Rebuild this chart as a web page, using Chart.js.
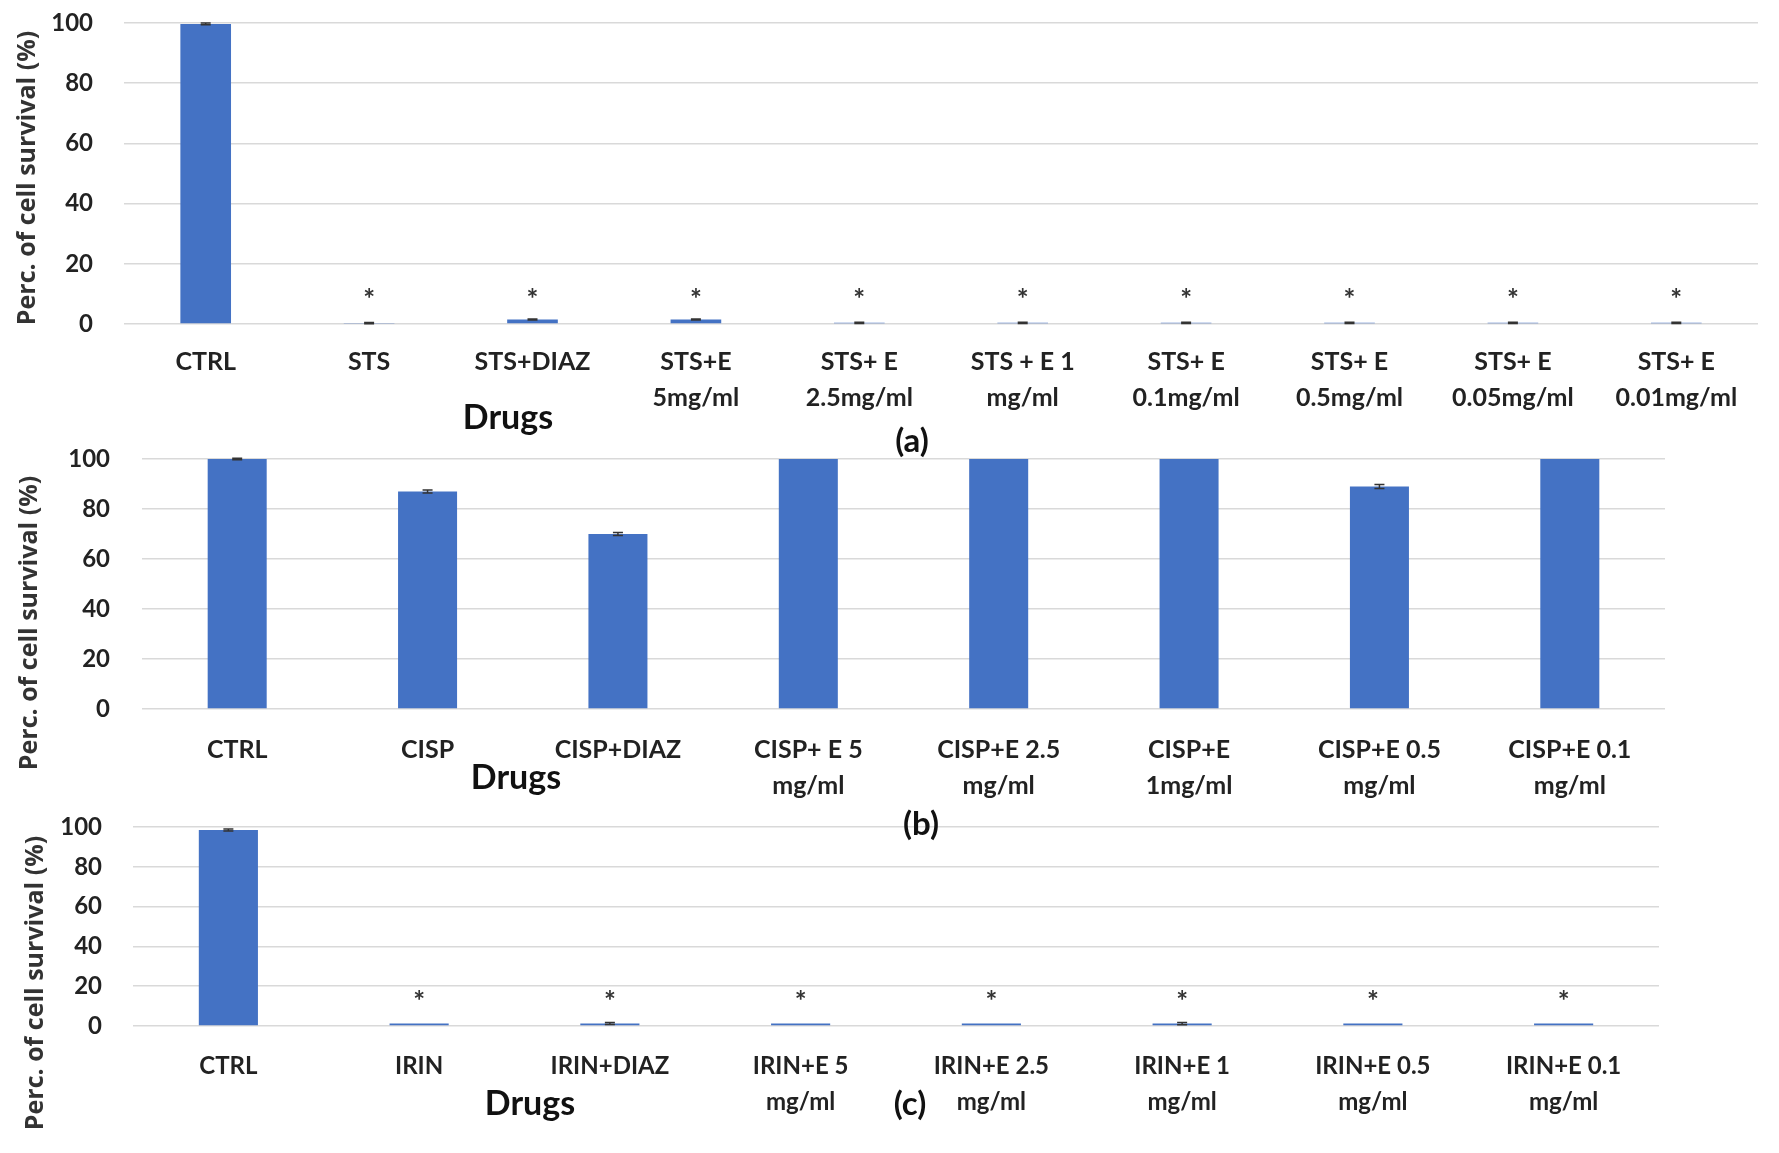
<!DOCTYPE html>
<html>
<head>
<meta charset="utf-8">
<script src="https://cdn.jsdelivr.net/npm/chart.js@4.4.1/dist/chart.umd.min.js"></script>
<style>
  html, body { margin: 0; padding: 0; background: #fff; }
  body { width: 1779px; height: 1153px; position: relative; overflow: hidden; }
  .panel { position: absolute; left: 0; width: 1779px; }
  .txt { position: absolute; font-family: Lato, sans-serif; font-weight: bold; color: #111; white-space: nowrap; transform: translate(-50%, -50%); }
  .ytitle { position: absolute; font-family: "Open Sans", sans-serif; font-weight: bold; font-size: 25px; color: #333; white-space: nowrap; transform: translate(-50%, -50%) rotate(-90deg); }
</style>
</head>
<body>
<div class="panel" style="top:0;height:440px"><canvas id="chartA"></canvas></div>
<div class="panel" style="top:430px;height:390px"><canvas id="chartB"></canvas></div>
<div class="panel" style="top:800px;height:353px"><canvas id="chartC"></canvas></div>

<div class="ytitle" style="left:25px;top:178px">Perc. of cell survival (%)</div>
<div class="ytitle" style="left:27px;top:623px">Perc. of cell survival (%)</div>
<div class="ytitle" style="left:33px;top:983px">Perc. of cell survival (%)</div>

<div class="txt" style="left:508px;top:415px;font-size:34px">Drugs</div>
<div class="txt" style="left:516px;top:775px;font-size:34px">Drugs</div>
<div class="txt" style="left:530px;top:1101px;font-size:34px">Drugs</div>
<div class="txt" style="left:912px;top:439px;font-size:33px">(a)</div>
<div class="txt" style="left:921px;top:822px;font-size:33px">(b)</div>
<div class="txt" style="left:910px;top:1102px;font-size:33px">(c)</div>

<script>
// panel (a) - STS
const labelsA = ['CTRL', 'STS', 'STS+DIAZ', ['STS+E', '5mg/ml'], ['STS+ E', '2.5mg/ml'], ['STS + E 1', 'mg/ml'],
  ['STS+ E', '0.1mg/ml'], ['STS+ E', '0.5mg/ml'], ['STS+ E', '0.05mg/ml'], ['STS+ E', '0.01mg/ml']];
const valuesA = [99.7, 0.3, 1.5, 1.5, 0.4, 0.4, 0.4, 0.4, 0.4, 0.4];
const errorsA = [0.3, 0.2, 0.2, 0.2, 0.2, 0.2, 0.2, 0.2, 0.2, 0.2];
const marksA = ['', '*', '*', '*', '*', '*', '*', '*', '*', '*'];

// panel (b) - CISP
const labelsB = ['CTRL', 'CISP', 'CISP+DIAZ', ['CISP+ E 5', 'mg/ml'], ['CISP+E 2.5', 'mg/ml'], ['CISP+E', '1mg/ml'],
  ['CISP+E 0.5', 'mg/ml'], ['CISP+E 0.1', 'mg/ml']];
const valuesB = [100, 87, 70, 100, 100, 100, 89, 100];
const errorsB = [0.3, 0.6, 0.6, 0, 0, 0, 0.8, 0];
const marksB = ['', '', '', '', '', '', '', ''];

// panel (c) - IRIN
const labelsC = ['CTRL', 'IRIN', 'IRIN+DIAZ', ['IRIN+E 5', 'mg/ml'], ['IRIN+E 2.5', 'mg/ml'], ['IRIN+E 1', 'mg/ml'],
  ['IRIN+E 0.5', 'mg/ml'], ['IRIN+E 0.1', 'mg/ml']];
const valuesC = [98.5, 1.2, 1.2, 1.2, 1.2, 1.2, 1.2, 1.2];
const errorsC = [0.5, 0, 0.5, 0, 0, 0.6, 0, 0];
const marksC = ['', '*', '*', '*', '*', '*', '*', '*'];

const yTicks = [0, 20, 40, 60, 80, 100];

Chart.defaults.font.family = 'Lato, sans-serif';
Chart.defaults.color = '#333';

// error bars + significance stars
const extrasPlugin = {
  id: 'extras',
  afterDatasetsDraw(chart, args, opts) {
    const c = chart.ctx;
    const y = chart.scales.y;
    const meta = chart.getDatasetMeta(0);
    meta.data.forEach((bar, i) => {
      const v = opts.values[i], e = opts.errors[i];
      if (e > 0) {
        const top = y.getPixelForValue(v + e);
        const bot = y.getPixelForValue(v - e);
        c.save();
        c.strokeStyle = '#333';
        c.lineWidth = 1.5;
        c.beginPath();
        c.moveTo(bar.x, top); c.lineTo(bar.x, bot);
        c.moveTo(bar.x - 5, top); c.lineTo(bar.x + 5, top);
        c.moveTo(bar.x - 5, bot); c.lineTo(bar.x + 5, bot);
        c.stroke();
        c.restore();
      }
      if (opts.marks[i]) {
        c.save();
        c.fillStyle = '#333';
        c.font = 'bold 28px Lato, sans-serif';
        c.textAlign = 'center';
        c.textBaseline = 'middle';
        c.fillText(opts.marks[i], bar.x, y.getPixelForValue(opts.starLevel));
        c.restore();
      }
    });
  }
};

function makePanel(id, labels, values, errors, marks, cfg) {
  new Chart(document.getElementById(id), {
    type: 'bar',
    data: {
      labels: labels,
      datasets: [{
        data: values,
        backgroundColor: '#4472c4',
        borderWidth: 0,
        categoryPercentage: 1,
        barPercentage: 0.31
      }]
    },
    options: {
      responsive: true,
      maintainAspectRatio: false,
      animation: false,
      devicePixelRatio: 1,
      layout: { padding: { top: cfg.top, right: cfg.right, left: 0, bottom: 0 } },
      plugins: {
        legend: { display: false },
        tooltip: { enabled: false },
        extras: { values: values, errors: errors, marks: marks, starLevel: cfg.starLevel }
      },
      scales: {
        x: {
          grid: { display: false, drawTicks: false },
          border: { display: false },
          ticks: {
            autoSkip: false, maxRotation: 0, minRotation: 0,
            padding: cfg.xPad,
            color: '#222',
            font: { size: cfg.xFont, weight: 'bold', lineHeight: 36 / cfg.xFont }
          },
          afterFit(scale) { scale.height = cfg.xHeight; }
        },
        y: {
          min: 0, max: 100,
          afterBuildTicks(scale) { scale.ticks = yTicks.map(v => ({ value: v })); },
          grid: { color: '#d9d9d9', lineWidth: 1.6, drawTicks: false },
          border: { display: false },
          ticks: {
            padding: cfg.yPad,
            color: '#222',
            font: { size: cfg.yFont, weight: 'bold' }
          },
          afterFit(scale) {
            scale.width = cfg.yWidth;
            scale.paddingTop = 0;
            scale.paddingBottom = 0;
          }
        }
      }
    },
    plugins: [extrasPlugin]
  });
}

makePanel('chartA', labelsA, valuesA, errorsA, marksA,
  { top: 23, right: 21, yWidth: 124, xHeight: 116, xPad: 20, yPad: 31, xFont: 25, yFont: 24, starLevel: 8 });
makePanel('chartB', labelsB, valuesB, errorsB, marksB,
  { top: 29, right: 114, yWidth: 142, xHeight: 111, xPad: 23, yPad: 32, xFont: 25, yFont: 24, starLevel: 0 });
makePanel('chartC', labelsC, valuesC, errorsC, marksC,
  { top: 27, right: 120, yWidth: 133, xHeight: 127, xPad: 22, yPad: 31, xFont: 24, yFont: 24, starLevel: 12 });
</script>
</body>
</html>
